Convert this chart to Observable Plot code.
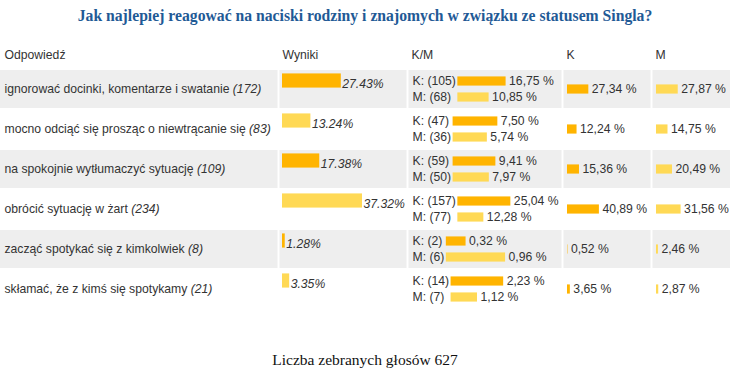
<!DOCTYPE html>
<html><head><meta charset="utf-8">
<script src="https://cdn.jsdelivr.net/npm/d3@7"></script>
<script src="https://cdn.jsdelivr.net/npm/@observablehq/plot@0.6"></script>
<style>
body{margin:0;background:#fff;width:730px;height:385px;overflow:hidden}
#title{height:40px;text-align:center;font:bold 15.7px "Liberation Serif","Times New Roman",serif;line-height:31px;color:#1f5a96;white-space:nowrap}
#chart svg{display:block}
#footer{margin-top:35px;height:20px;text-align:center;font:15.5px "Liberation Serif","Times New Roman",serif;line-height:20px;color:#111}
</style></head><body>
<div id="title">Jak najlepiej reagować na naciski rodziny i znajomych w związku ze statusem Singla?</div>
<div id="chart"></div>
<div id="footer"></div>
<script>
// ---- data ----
const answers = [
  "ignorować docinki, komentarze i swatanie",
  "mocno odciąć się prosząc o niewtrącanie się",
  "na spokojnie wytłumaczyć sytuację",
  "obrócić sytuację w żart",
  "zacząć spotykać się z kimkolwiek",
  "skłamać, że z kimś się spotykamy"
];
const counts   = [172, 83, 109, 234, 8, 21];
const totalPct = [27.43, 13.24, 17.38, 37.32, 1.28, 3.35];
const kCounts  = [105, 47, 59, 157, 2, 14];
const mCounts  = [68, 36, 50, 77, 6, 7];
const kOfAll   = [16.75, 7.50, 9.41, 25.04, 0.32, 2.23];
const mOfAll   = [10.85, 5.74, 7.97, 12.28, 0.96, 1.12];
const kPct     = [27.34, 12.24, 15.36, 40.89, 0.52, 3.65];
const mPct     = [27.87, 14.75, 20.49, 31.56, 2.46, 2.87];
const headers  = ["Odpowiedź", "Wyniki", "K/M", "K", "M"];
const totalVotes = 627;

document.getElementById("footer").textContent = "Liczba zebranych głosów " + totalVotes;

// ---- layout ----
const W = 730, H = 275, MT = 26, MB = 4;
const bw = (H - MT - MB) / answers.length;
const colStart = [0, 278, 407, 562, 651];
const headerX = [4, 282, 411, 566, 655];
const ORANGE = "#ffb400", YELLOW = "#ffd955", GREY = "#eeeeee", TXT = "#333";
const FONT = "'Liberation Sans', Arial, sans-serif";
const FS = 12.2;

const ctx = document.createElement("canvas").getContext("2d");
function tw(s, f = FS + "px " + FONT) { ctx.font = f; return ctx.measureText(s).width; }

const fmt = v => v.toFixed(2).replace(".", ",") + " %";
const maxTotal = d3.max(totalPct);
const wTotal = d3.scaleLinear().domain([0, maxTotal]).range([0, 80]);
const wShare = d3.scaleLinear().domain([0, 1]).range([0, 79]);
const wGender = d3.scaleLinear().domain([0, 100]).range([0, 78]);

const rows = answers.map((a, i) => {
  const kl = `K: (${kCounts[i]})`, ml = `M: (${mCounts[i]})`;
  const kmStart = colStart[2] + 5 + Math.max(tw(kl), tw(ml)) + 2;
  return {
    i, answer: a, count: counts[i], total: totalPct[i],
    kl, ml, kmStart,
    kEnd: kmStart + wShare(kOfAll[i] / totalPct[i]),
    mEnd: kmStart + wShare(mOfAll[i] / totalPct[i]),
    kOfAll: kOfAll[i], mOfAll: mOfAll[i],
    tStart: colStart[1] + 4, tEnd: colStart[1] + 4 + wTotal(totalPct[i]),
    kStart: colStart[3] + 5, kBarEnd: colStart[3] + 5 + wGender(kPct[i]), kPct: kPct[i],
    mStart: colStart[4] + 5, mBarEnd: colStart[4] + 5 + wGender(mPct[i]), mPct: mPct[i],
    countX: 4 + tw(a + " ")
  };
});

const plot = Plot.plot({
  width: W, height: H,
  marginTop: MT, marginBottom: MB, marginLeft: 0, marginRight: 0,
  x: {domain: [0, W], range: [0, W], axis: null},
  y: {type: "band", domain: answers, paddingInner: 0, paddingOuter: 0, axis: null},
  style: {fontFamily: FONT, fontSize: FS + "px", color: TXT, background: "#fff"},
  marks: [
    // row backgrounds
    Plot.barX(rows.filter(d => d.i % 2 === 0), {x1: 0, x2: W, y: "answer", fill: GREY, insetTop: 1, insetBottom: 1}),
    // column separators
    Plot.ruleX(colStart.slice(1), {stroke: "#fff", strokeWidth: 2}),
    // headers
    Plot.text(headers, {x: (d, i) => headerX[i], frameAnchor: "top", lineAnchor: "middle", dy: -11, text: d => d, textAnchor: "start", fill: TXT}),
    // answers
    Plot.text(rows, {x: 4, y: "answer", text: "answer", textAnchor: "start", fill: TXT}),
    Plot.text(rows, {x: "countX", y: "answer", text: d => `(${d.count})`, textAnchor: "start", fill: TXT, fontStyle: "italic"}),
    // Wyniki
    Plot.barX(rows, {x1: "tStart", x2: "tEnd", y: "answer", fill: d => d.i % 2 === 0 ? ORANGE : YELLOW,
      insetTop: bw / 2 - 16, insetBottom: bw / 2 + 1}),
    Plot.text(rows, {x: "tEnd", y: "answer", dx: 1, dy: -5, text: d => d.total.toFixed(2) + "%", textAnchor: "start", fontStyle: "italic", fill: TXT}),
    // K/M
    Plot.text(rows, {x: colStart[2] + 5, y: "answer", dy: -8, text: "kl", textAnchor: "start", fill: TXT}),
    Plot.text(rows, {x: colStart[2] + 5, y: "answer", dy: 8, text: "ml", textAnchor: "start", fill: TXT}),
    Plot.barX(rows, {x1: "kmStart", x2: "kEnd", y: "answer", fill: ORANGE, insetTop: bw / 2 - 13, insetBottom: bw / 2 + 3}),
    Plot.barX(rows, {x1: "kmStart", x2: "mEnd", y: "answer", fill: YELLOW, insetTop: bw / 2 + 3, insetBottom: bw / 2 - 13}),
    Plot.text(rows, {x: "kEnd", y: "answer", dx: 3, dy: -8, text: d => fmt(d.kOfAll), textAnchor: "start", fill: TXT}),
    Plot.text(rows, {x: "mEnd", y: "answer", dx: 3, dy: 8, text: d => fmt(d.mOfAll), textAnchor: "start", fill: TXT}),
    // K
    Plot.barX(rows, {x1: "kStart", x2: "kBarEnd", y: "answer", fill: ORANGE, insetTop: bw / 2 - 5, insetBottom: bw / 2 - 5}),
    Plot.text(rows, {x: "kBarEnd", y: "answer", dx: 3, text: d => fmt(d.kPct), textAnchor: "start", fill: TXT}),
    // M
    Plot.barX(rows, {x1: "mStart", x2: "mBarEnd", y: "answer", fill: YELLOW, insetTop: bw / 2 - 5, insetBottom: bw / 2 - 5}),
    Plot.text(rows, {x: "mBarEnd", y: "answer", dx: 3, text: d => fmt(d.mPct), textAnchor: "start", fill: TXT})
  ]
});
document.getElementById("chart").appendChild(plot);
</script>
</body></html>
